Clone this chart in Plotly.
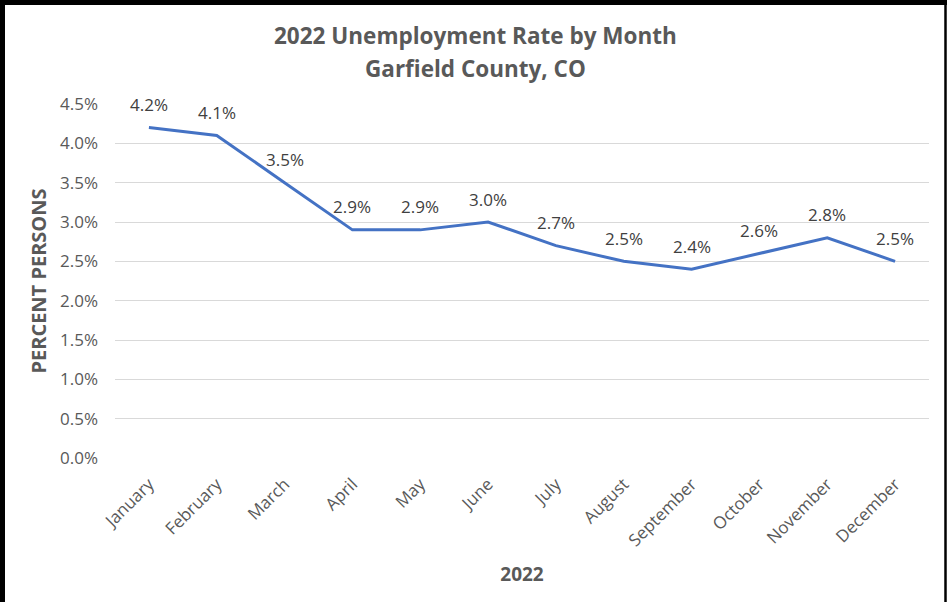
import plotly.graph_objects as go

months = ["January", "February", "March", "April", "May", "June", "July",
          "August", "September", "October", "November", "December"]
rates = [0.042, 0.041, 0.035, 0.029, 0.029, 0.030, 0.027, 0.025, 0.024, 0.026, 0.028, 0.025]
y_ticks = [0.0, 0.005, 0.01, 0.015, 0.02, 0.025, 0.03, 0.035, 0.04, 0.045]

W, H = 947, 602
L, R, T, B = 115, 18, 104, 144
pw, ph = W - L - R, H - T - B

def px(x):
    return (x - L) / pw

def py(y):
    return (H - B - y) / ph

FONT = "Open Sans"
GRAY = "#595959"

fig = go.Figure()
fig.add_trace(go.Scatter(
    x=months, y=rates, mode="lines",
    line=dict(color="#4472C4", width=3),
    hoverinfo="skip", showlegend=False,
))

annotations = []
for m, v in zip(months, rates):
    annotations.append(dict(
        x=m, y=v, xref="x", yref="y", text=f"{v*100:.1f}%",
        showarrow=False, yanchor="middle", yshift=23,
        font=dict(family=FONT, size=17, color="#404040"),
    ))

annotations.append(dict(
    x=px(475), y=py(35), xref="paper", yref="paper",
    text="<b>2022 Unemployment Rate by Month</b>", showarrow=False,
    xanchor="center", yanchor="middle",
    font=dict(family=FONT, size=22.5, color=GRAY),
))
annotations.append(dict(
    x=px(475), y=py(68), xref="paper", yref="paper",
    text="<b>Garfield County, CO</b>", showarrow=False,
    xanchor="center", yanchor="middle",
    font=dict(family=FONT, size=22.5, color=GRAY),
))

shapes = [
    dict(type="line", xref="paper", yref="paper",
         x0=px(2.5), x1=px(2.5), y0=py(0), y1=py(602),
         line=dict(color="black", width=5)),
    dict(type="line", xref="paper", yref="paper",
         x0=px(0), x1=px(947), y0=py(2.5), y1=py(2.5),
         line=dict(color="black", width=5)),
    dict(type="line", xref="paper", yref="paper",
         x0=px(945.5), x1=px(945.5), y0=py(0), y1=py(602),
         line=dict(color="black", width=2.5)),
]

fig.update_layout(
    width=W, height=H,
    margin=dict(l=L, r=R, t=T, b=B),
    paper_bgcolor="white", plot_bgcolor="white",
    annotations=annotations, shapes=shapes,
    xaxis=dict(
        type="category", range=[-0.5, 11.5],
        tickangle=-45, showgrid=False, showline=False, ticks="",
        tickfont=dict(family=FONT, size=17, color=GRAY),
        ticklabelstandoff=12,
        title=dict(text="<b>2022</b>", standoff=17,
                   font=dict(family=FONT, size=19, color=GRAY)),
    ),
    yaxis=dict(
        range=[0, 0.045], tickvals=y_ticks, tickformat=".1%",
        showgrid=True, gridcolor="#D9D9D9", gridwidth=1,
        zeroline=False, showline=False, ticks="",
        tickfont=dict(family=FONT, size=17, color=GRAY),
        ticklabelstandoff=16,
        title=dict(text="<b>PERCENT PERSONS</b>", standoff=8,
                   font=dict(family=FONT, size=20, color=GRAY)),
    ),
)

fig.write_html("out.html")
